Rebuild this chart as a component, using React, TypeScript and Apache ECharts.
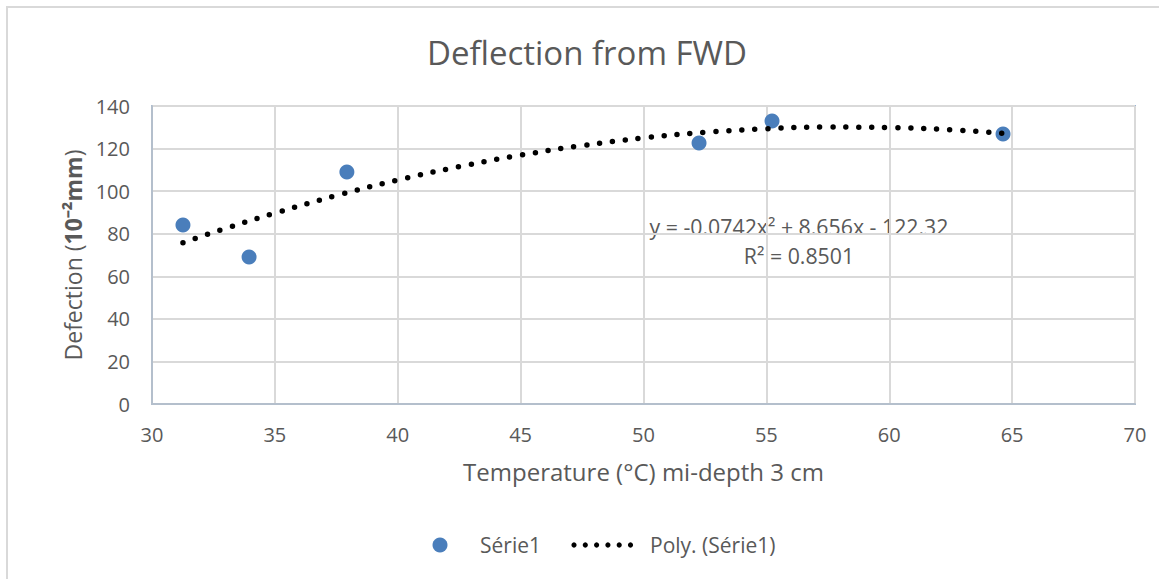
import React, { useEffect, useRef } from "react";
import * as echarts from "echarts";

const titleText = "Deflection from FWD";
const xAxisTitle = "Temperature (°C) mi-depth 3 cm";
const seriesName = "Série1";
const trendName = "Poly. (Série1)";
const equationText = "y = -0.0742x² + 8.656x - 122.32";
const r2Text = "R² = 0.8501";

const temperatures = [31.26, 33.95, 37.93, 52.26, 55.23, 64.63];
const deflections = [84.1, 69.1, 109.0, 122.6, 132.9, 126.8];

const trendX = [31.26, 33, 35, 37.5, 40, 42.5, 45, 47.5, 50, 52.5, 55, 57.5, 60, 62.5, 64.63];
const trendY = [75.8, 82.5, 89.7, 97.9, 105.2, 111.5, 116.9, 121.4, 125.0, 127.6, 129.3, 130.1, 129.9, 128.8, 127.2];

const FONT = "'Open Sans', sans-serif";
const TEXT = "#595959";
const BLUE = "#4a7ebb";

export default function App() {
  const ref = useRef<HTMLDivElement>(null);
  useEffect(() => {
    if (!ref.current) return;
    const chart = echarts.init(ref.current, null, { renderer: "svg" });
    const legendDots = [0, 1, 2, 3, 4, 5].map((i) => ({
      type: "circle",
      shape: { cx: 574 + i * 11.3, cy: 545, r: 2.6 },
      style: { fill: "#000000" },
      silent: true,
    }));
    chart.setOption({
      animation: false,
      backgroundColor: "#ffffff",
      textStyle: { fontFamily: FONT, color: TEXT },
      grid: {
        left: 152,
        right: 24,
        top: 106,
        bottom: 175,
        show: true,
        borderColor: BLUE,
        borderWidth: 1.5,
        backgroundColor: "transparent",
      },
      xAxis: {
        type: "value",
        min: 30,
        max: 70,
        interval: 5,
        name: xAxisTitle,
        nameLocation: "middle",
        nameGap: 55,
        nameTextStyle: { fontFamily: FONT, fontSize: 24, color: TEXT },
        axisLine: { show: true, lineStyle: { color: "#b4bfcc", width: 2 } },
        axisTick: { show: false },
        axisLabel: { margin: 20, fontFamily: FONT, fontSize: 20, color: TEXT },
        splitLine: { show: true, lineStyle: { color: "#d9d9d9", width: 2 } },
      },
      yAxis: {
        type: "value",
        min: 0,
        max: 140,
        interval: 20,
        name: "{n|Defection (}{b|10⁻²mm}{n|)}",
        nameLocation: "middle",
        nameGap: 66,
        nameRotate: 90,
        nameTextStyle: {
          fontFamily: FONT,
          fontSize: 23,
          color: TEXT,
          rich: {
            n: { fontFamily: FONT, fontSize: 23, color: TEXT },
            b: { fontFamily: FONT, fontSize: 23, color: TEXT, fontWeight: "bold" },
          },
        },
        axisLine: { show: true, lineStyle: { color: "#b4bfcc", width: 2 } },
        axisTick: { show: false },
        axisLabel: { margin: 22, fontFamily: FONT, fontSize: 20, color: TEXT },
        splitLine: { show: true, lineStyle: { color: "#d9d9d9", width: 2 } },
      },
      series: [
        {
          name: seriesName,
          type: "scatter",
          symbol: "circle",
          symbolSize: 15,
          itemStyle: { color: BLUE, opacity: 1 },
          data: temperatures.map((t, i) => [t, deflections[i]]),
          z: 3,
        },
        {
          name: trendName,
          type: "line",
          smooth: true,
          showSymbol: false,
          symbol: "none",
          itemStyle: { color: "#000000" },
          lineStyle: { color: "#000000", width: 5.5, type: [0, 13], cap: "round" },
          data: trendX.map((t, i) => [t, trendY[i]]),
          z: 4,
        },
      ],
      graphic: [
        {
          type: "rect",
          shape: { x: 7, y: 7, width: 1170, height: 600 },
          style: { fill: "none", stroke: "#d9d9d9", lineWidth: 2 },
          silent: true,
        },
        {
          type: "text",
          x: 587,
          y: 52,
          style: { text: titleText, fontFamily: FONT, fontSize: 33, fill: TEXT, textAlign: "center", textVerticalAlign: "middle" },
        },
        {
          type: "text",
          x: 799,
          y: 226,
          style: { text: equationText, fontFamily: FONT, fontSize: 21.3, fill: TEXT, textAlign: "center", textVerticalAlign: "middle" },
        },
        {
          type: "text",
          x: 799,
          y: 255,
          style: { text: r2Text, fontFamily: FONT, fontSize: 21.3, fill: TEXT, textAlign: "center", textVerticalAlign: "middle" },
        },
        {
          type: "circle",
          shape: { cx: 440, cy: 545, r: 7.5 },
          style: { fill: BLUE },
          silent: true,
        },
        {
          type: "text",
          x: 480,
          y: 545,
          style: { text: seriesName, fontFamily: FONT, fontSize: 21, fill: TEXT, textAlign: "left", textVerticalAlign: "middle" },
        },
        ...legendDots,
        {
          type: "text",
          x: 650,
          y: 545,
          style: { text: trendName, fontFamily: FONT, fontSize: 21, fill: TEXT, textAlign: "left", textVerticalAlign: "middle" },
        },
      ],
    });
    return () => chart.dispose();
  }, []);
  return (
    <div
      ref={ref}
      style={{ position: "absolute", left: 0, top: 0, width: 1159, height: 579 }}
    />
  );
}
